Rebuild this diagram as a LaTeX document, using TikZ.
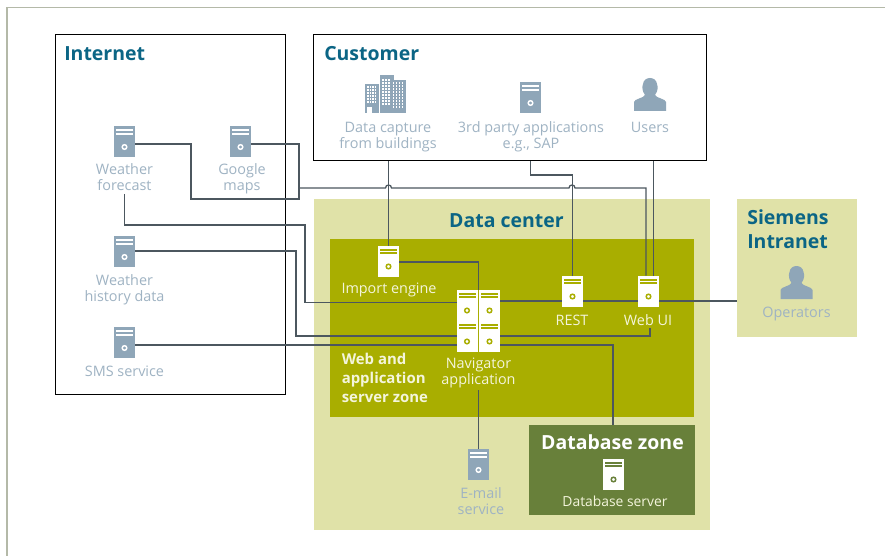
\documentclass[tikz,border=0pt]{standalone}
\usepackage{fontspec}
\setmainfont{Open Sans}
\usetikzlibrary{calc}
\definecolor{dcfill}{HTML}{E0E2A8}
\definecolor{webfill}{HTML}{A9AE00}
\definecolor{dbfill}{HTML}{68803A}
\definecolor{iconblue}{HTML}{8FA6B8}
\definecolor{labelblue}{HTML}{9FB3C3}
\definecolor{headblue}{HTML}{0B6585}
\definecolor{wire}{HTML}{4C575F}
\definecolor{pagegray}{HTML}{B4B9A8}
\definecolor{labelwhite}{HTML}{F4F5DC}
\tikzset{
  x=0.75pt,y=-0.75pt,
  srvbox/.style={rectangle,inner sep=0pt,outer sep=0pt,minimum width=15.75pt,minimum height=23.25pt},
  zone/.style={rectangle,inner sep=0pt,outer sep=0pt,anchor=north west},
  frame/.style={draw=black,line width=0.75pt,fill=white},
  wirep/.style={draw=wire,line width=0.95pt,line join=miter},
  heading/.style={text=headblue,font=\fontsize{14.6}{18}\selectfont\bfseries,anchor=base west,inner sep=0pt,align=left},
  graylabel/.style={text=labelblue,font=\fontsize{10.8}{12}\selectfont,inner sep=0pt,align=center},
  whitelabel/.style={text=labelwhite,font=\fontsize{10.8}{12}\selectfont,inner sep=0pt,align=center},
}
% name, centre x, centre y, body colour, detail colour
\newcommand{\srvicon}[5]{%
  \node[srvbox,fill=#4] (#1) at (#2,#3) {};
  \begin{scope}[shift={(#2,#3)}]
    \fill[#5] (-8.5,-12.5) rectangle (8.5,-10.5);
    \fill[#5] (-8.5,-8.8) rectangle (8.5,-6.8);
    \draw[#5,line width=1.1pt] (0,5.5) circle (2.3);
  \end{scope}}
\newcommand{\personicon}[3]{%
  \node[rectangle,inner sep=0pt,minimum width=24pt,minimum height=25.5pt] (#1) at (#2,#3) {};
  \begin{scope}[shift={(#2,#3)}]
    \fill[iconblue] (-16,17) -- (-16,8) .. controls (-16,5) and (-6,4) .. (-5,1)
      .. controls (-8,-3) and (-8,-7) .. (-7,-10) .. controls (-6,-18) and (6,-18) .. (7,-10)
      .. controls (8,-7) and (8,-3) .. (5,1) .. controls (6,4) and (16,5) .. (16,8) -- (16,17) -- cycle;
  \end{scope}}
\begin{document}
\begin{tikzpicture}
\useasboundingbox (0,0) rectangle (885,556);
\fill[white] (0,0) rectangle (885,556);
\draw[pagegray,line width=0.9pt] (885,7.3) -- (7,7.3) -- (7,556);
% zones
\node[zone,fill=dcfill,minimum width=297pt,minimum height=248.25pt] (dc) at (314,199) {};
\node[zone,fill=webfill,minimum width=273pt,minimum height=133.5pt] (web) at (330,239) {};
\node[zone,fill=dbfill,minimum width=124.5pt,minimum height=67.5pt] (db) at (529,425) {};
\node[zone,fill=dcfill,minimum width=90pt,minimum height=103.5pt] (intra) at (737,199) {};
\node[zone,frame,minimum width=172.5pt,minimum height=269.25pt] (inet) at (55,35) {};
\node[zone,frame,minimum width=294.75pt,minimum height=94.5pt] (cust) at (313.5,35) {};
% headings
\node[heading] (hinet) at (64,61) {Internet};
\node[heading] (hcust) at (324,61) {Customer};
\node[heading,anchor=base] (hdc) at (506.5,228) {Data center};
\node[heading] (hintra) at (747,224) {Siemens};
\node[heading] (hintrb) at (747,248) {Intranet};
\node[heading,text=white,anchor=base] (hdb) at (612.5,449) {Database zone};
\node[anchor=north west,inner sep=0pt,text=labelwhite,align=left,font=\fontsize{11.2}{14.1}\selectfont\bfseries] (hweb) at (341.5,353) {Web and\\application\\server zone};
% servers
\srvicon{wf}{124.5}{141.5}{iconblue}{white}
\srvicon{gm}{240.5}{141.5}{iconblue}{white}
\srvicon{wh}{124.5}{251.5}{iconblue}{white}
\srvicon{sms}{124.5}{342.5}{iconblue}{white}
\srvicon{tp}{530.5}{97.5}{iconblue}{white}
\srvicon{mail}{478.5}{464.5}{iconblue}{white}
\srvicon{imp}{388.5}{261}{white}{webfill}
\srvicon{rest}{572.5}{291}{white}{webfill}
\srvicon{wui}{648.5}{291}{white}{webfill}
\srvicon{nava}{467}{305}{white}{webfill}
\srvicon{navb}{489.5}{305}{white}{webfill}
\srvicon{navc}{467}{336}{white}{webfill}
\srvicon{navd}{489.5}{336}{white}{webfill}
\srvicon{dbs}{613.5}{474}{white}{dbfill}
% buildings
\node[rectangle,inner sep=0pt,minimum width=30.75pt,minimum height=28.5pt] (bld) at (385.5,94) {};
\begin{scope}[shift={(365,75)}]
  \fill[iconblue] (0,9) rectangle (13.5,38);
  \fill[iconblue] (15,0) rectangle (29,38);
  \fill[iconblue] (25.5,5.5) rectangle (41,38);
  \fill[white] (2,32) rectangle (7,38);
  \foreach \i in {0,1,2,3} \foreach \j in {0,1,2,3,4,5} {
    \fill[white] ({2+\i*2.6},{11+\j*3}) rectangle ++(1.6,1.8);
  }
  \foreach \i in {0,1,2} \foreach \j in {0,...,8} {
    \fill[white] ({17+\i*3},{4+\j*3}) rectangle ++(1.8,1.8);
  }
  \foreach \i in {0,1,2,3} \foreach \j in {0,...,8} {
    \fill[white] ({27.5+\i*3},{7+\j*3}) rectangle ++(1.8,1.8);
  }
\end{scope}
% people
\personicon{usr}{650}{94}
\personicon{opr}{796.5}{282}
% labels
\node[graylabel] (lwf) at (124.5,177) {Weather\\forecast};
\node[graylabel] (lgm) at (242,179) {Google\\maps};
\node[graylabel] (lwh) at (124.5,290) {Weather\\history data};
\node[graylabel] (lsms) at (124.5,371) {SMS service};
\node[graylabel] (lbld) at (388,137) {Data capture\\from buildings};
\node[graylabel] (ltp) at (531,137) {3rd party applications\\e.g., SAP};
\node[graylabel] (lusr) at (650,127.5) {Users};
\node[graylabel] (lopr) at (796.5,314) {Operators};
\node[graylabel] (lmail) at (481,501) {E-mail\\service};
\node[whitelabel] (limp) at (389,290) {Import engine};
\node[whitelabel] (lnav) at (478.5,373) {Navigator\\application};
\node[whitelabel] (lrest) at (572,320) {REST};
\node[whitelabel] (lwui) at (648,320) {Web UI};
\node[whitelabel,font=\fontsize{10.4}{12}\selectfont] (ldbs) at (615,501) {Database server};
% connectors
\draw[wirep] (wf.east |- 0,144) -- (191,144) -- (191,199) -- (299,199) -- (299,144) -- (gm.east |- 0,144);
\coordinate (busA) at (299,188);
\draw[wirep] (busA) -- (385.5,188) .. controls (385.5,184) and (391.5,184) .. (391.5,188)
  -- (569,188) .. controls (569,184) and (575,184) .. (575,188)
  -- (646,188) -- (wui.north -| 646,0);
\draw[wirep] (cust.south -| 388.7,0) -- (imp.north -| 388.7,0);
\draw[wirep] (cust.south -| tp.south) -- (530.5,175) -- (572.5,175) -- (rest.north);
\draw[wirep] (cust.south -| 653.7,0) -- (wui.north -| 653.7,0);
\draw[wirep] (imp.east |- 0,262) -- (478.3,262) -- (478.3,290);
\draw[wirep] (lwf.south -| wf.south) ++(0,3) -- (124.5,225) -- (305,225) -- (305,302.5) -- (nava.west |- 0,302.5);
\draw[wirep] (navb.east |- 0,301) -- (rest.west |- 0,301);
\draw[wirep] (rest.east |- 0,301) -- (wui.west |- 0,301);
\draw[wirep] (wui.east |- 0,301) -- (intra.west |- 0,301);
\draw[wirep] (wh.east |- 0,251) -- (296,251) -- (296,336) -- (navc.west);
\draw[wirep] (navd.east) -- (650,336) -- (650,328);
\draw[wirep] (sms.east |- 0,345) -- (navc.west |- 0,345);
\draw[wirep] (navd.east |- 0,345) -- (613,345) -- (db.north -| 613,0);
\draw[wirep] (478.3,390) -- (mail.north -| 478.3,0);
\end{tikzpicture}
\end{document}
